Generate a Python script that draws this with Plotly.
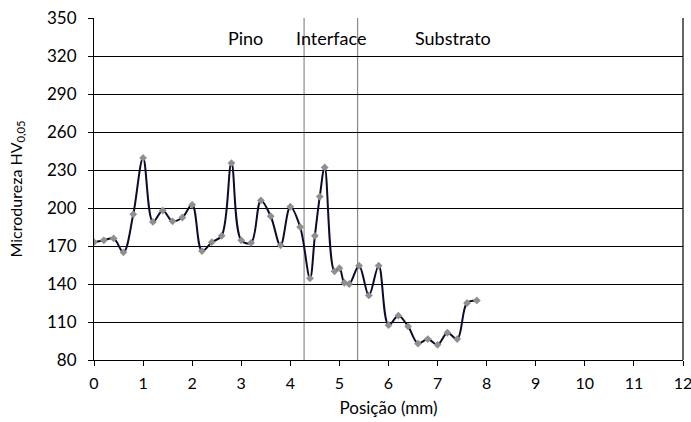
import plotly.graph_objects as go

posicao = [0.0, 0.2, 0.4, 0.6, 0.8, 1.0, 1.2, 1.4, 1.6, 1.8, 2.0, 2.2, 2.4, 2.6, 2.8,
           3.0, 3.2, 3.4, 3.6, 3.8, 4.0, 4.2, 4.4, 4.5, 4.6, 4.7, 4.9, 5.0, 5.1, 5.2,
           5.4, 5.6, 5.8, 6.0, 6.2, 6.4, 6.6, 6.8, 7.0, 7.2, 7.4, 7.6, 7.8]
microdureza = [173, 174.5, 176, 165, 195, 239.5, 189, 198, 189.5, 192.5, 202.5, 166, 173, 178, 235.5,
               174.5, 172.5, 206, 193.5, 170.5, 201, 185, 144.5, 178, 209, 232, 150, 152.5, 141, 140,
               154.5, 131, 154.5, 107.5, 115, 106.5, 93, 96.5, 92, 101.5, 96.5, 125, 127]

regioes = ["Pino", "Interface", "Substrato"]
regioes_x = [3.09, 4.83, 7.32]
regioes_y = [334, 334, 334]
limites = [4.28, 5.37]

y_ticks = [80, 110, 140, 170, 200, 230, 260, 290, 320, 350]
x_ticks = list(range(0, 13))

FONT = "Lato, 'Open Sans', sans-serif"

fig = go.Figure()
fig.add_trace(go.Scatter(
    x=posicao, y=microdureza, mode="lines+markers",
    line=dict(color="#0b0b2b", width=2, shape="spline", smoothing=1.0),
    marker=dict(symbol="diamond", size=6, color="#8f8f8f"),
    showlegend=False, hoverinfo="skip"))

for xv in limites:
    fig.add_shape(type="line", x0=xv, x1=xv, y0=80, y1=350, xref="x", yref="y",
                  line=dict(color="#8a8a8a", width=1.2), layer="below")

for t, xv, yv in zip(regioes, regioes_x, regioes_y):
    fig.add_annotation(x=xv, y=yv, text=t, showarrow=False, xref="x", yref="y",
                       font=dict(size=18, color="#000", family=FONT))

fig.update_layout(
    width=691, height=422,
    margin=dict(l=94, r=8, t=18, b=62, autoexpand=False),
    paper_bgcolor="white", plot_bgcolor="white",
    font=dict(family=FONT, size=17, color="#000"),
    xaxis=dict(range=[0, 12], tickvals=x_ticks, ticks="outside", ticklen=5,
               tickcolor="#000", showline=True, linecolor="#000", linewidth=1.2,
               ticklabelstandoff=4, automargin=False, ticklabeloverflow="allow",
               tickfont=dict(size=16),
               mirror=False, showgrid=False, zeroline=False,
               title=dict(text="Posição (mm)", font=dict(size=17), standoff=10)),
    yaxis=dict(range=[80, 350], tickvals=y_ticks, ticks="outside", ticklen=5,
               tickcolor="#000", showline=True, linecolor="#000", linewidth=1.2,
               ticklabelstandoff=8, automargin=False,
               showgrid=True, gridcolor="#000", gridwidth=1.2, zeroline=False,
               title=dict(text="Microdureza HV<sub>0,05</sub>", font=dict(size=16), standoff=20)),
)
# right border
fig.add_shape(type="line", x0=1, x1=1, y0=0, y1=1, xref="paper", yref="paper",
              line=dict(color="#000", width=1.2))

fig.write_html("out.html", config={"displayModeBar": False},
               post_script="document.body.style.margin='0';")
